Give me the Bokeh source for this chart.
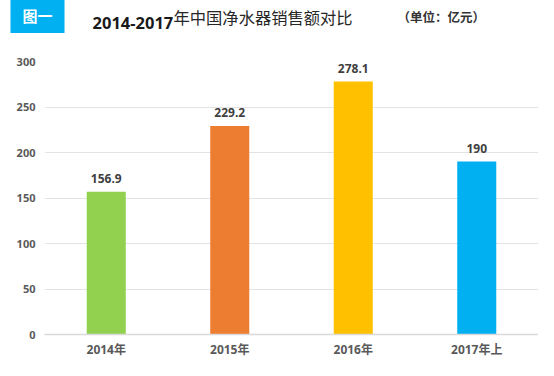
from bokeh.plotting import figure
from bokeh.models import ColumnDataSource, Range1d, FactorRange, FixedTicker, Title, CategoricalAxis
from bokeh.core.properties import value
from bokeh.embed import file_html
from bokeh.resources import INLINE

categories = ["2014年", "2015年", "2016年", "2017年上"]
sales = [156.9, 229.2, 278.1, 190]
bar_colors = ["#92D050", "#ED7D31", "#FFC000", "#00B0F0"]
y_ticks = [0, 50, 100, 150, 200, 250, 300]

title_tag = "图一"
title_num = "2014-2017"
title_cn = "年中国净水器销售额对比"
unit_text = "（单位：亿元）"

FONT = "Noto Sans, Noto Sans CJK SC"

src = ColumnDataSource(dict(cat=categories, val=sales, color=bar_colors,
                            label=[f"{v:g}" for v in sales]))

p = figure(width=538, height=360, x_range=FactorRange(*categories), y_range=Range1d(0, 300),
           toolbar_location=None, output_backend="svg",
           min_border_left=44, min_border_right=0, min_border_top=61, min_border_bottom=22)
p.outline_line_color = None

p.vbar(x="cat", top="val", width=0.316, fill_color="color", line_color=None, source=src)
p.text(x="cat", y="val", text="label", source=src, text_font=value(FONT), text_font_size="12px",
       text_font_style="bold", text_color="#404040", text_align="center",
       text_baseline="middle", y_offset=-13)

p.yaxis.ticker = FixedTicker(ticks=y_ticks)
p.yaxis.axis_line_color = None
p.yaxis.major_tick_line_color = None
p.yaxis.minor_tick_line_color = None
p.yaxis.major_tick_out = 0
p.yaxis.minor_tick_out = 0
p.yaxis.major_label_standoff = 9
p.yaxis.major_label_text_font = FONT
p.yaxis.major_label_text_font_size = "11px"
p.yaxis.major_label_text_font_style = "bold"
p.yaxis.major_label_text_color = "#595959"

p.xaxis.axis_line_color = "#d9d9d9"
p.xaxis.axis_line_width = 1.5
p.xaxis.major_tick_line_color = None
p.xaxis.minor_tick_line_color = None
p.xaxis.major_tick_out = 0
p.xaxis.minor_tick_out = 0
p.xaxis.major_label_standoff = 6
p.xaxis.major_label_text_font = FONT
p.xaxis.major_label_text_font_size = "12px"
p.xaxis.major_label_text_font_style = "bold"
p.xaxis.major_label_text_color = "#595959"

p.xgrid.visible = False
p.ygrid.grid_line_color = "#e3e3e3"
p.ygrid.grid_line_width = 1

# invisible spacer axis between the frame and the title row
p.extra_x_ranges = {"spacer": FactorRange("s")}
spacer = CategoricalAxis(x_range_name="spacer",
                         major_label_overrides={"s": ""}, major_label_text_font_size="1px",
                         major_label_text_alpha=0,
                         major_label_standoff=0, major_tick_out=45, major_tick_in=0,
                         minor_tick_out=0, minor_tick_in=0,
                         axis_line_color=None, major_tick_line_color=None,
                         minor_tick_line_color=None)
p.add_layout(spacer, "above")

# title row (zero-height title panels sitting on the spacer)
t_num = Title(text=title_num, align="left", offset=48, standoff=-25.3,
              text_font=FONT, text_font_size="16.5px", text_font_style="bold",
              text_color="#1a1a1a")
p.add_layout(t_num, "above")

t_cn = Title(text=title_cn, align="left", offset=129, standoff=-25,
             text_font=FONT, text_font_size="16.3px", text_font_style="normal",
             text_color="#262626")
p.add_layout(t_cn, "above")

t_unit = Title(text=unit_text, align="left", offset=353, standoff=-19.5,
               text_font=FONT, text_font_size="12.5px", text_font_style="bold",
               text_color="#333333")
p.add_layout(t_unit, "above")

try:
    t_tag = Title(text=title_tag, align="left", offset=-34, standoff=-33,
                  background_fill_color="#00B0F0", text_color="white",
                  text_font=FONT, text_font_size="15px", text_font_style="bold",
                  padding=dict(left=12, right=12, top=6, bottom=7))
except Exception:
    t_tag = Title(text=title_tag, align="left", offset=-34, standoff=-33,
                  background_fill_color="#00B0F0", text_color="white",
                  text_font=FONT, text_font_size="15px", text_font_style="bold",
                  padding=7)
p.add_layout(t_tag, "above")

open("out.html", "w").write(file_html(p, INLINE))
